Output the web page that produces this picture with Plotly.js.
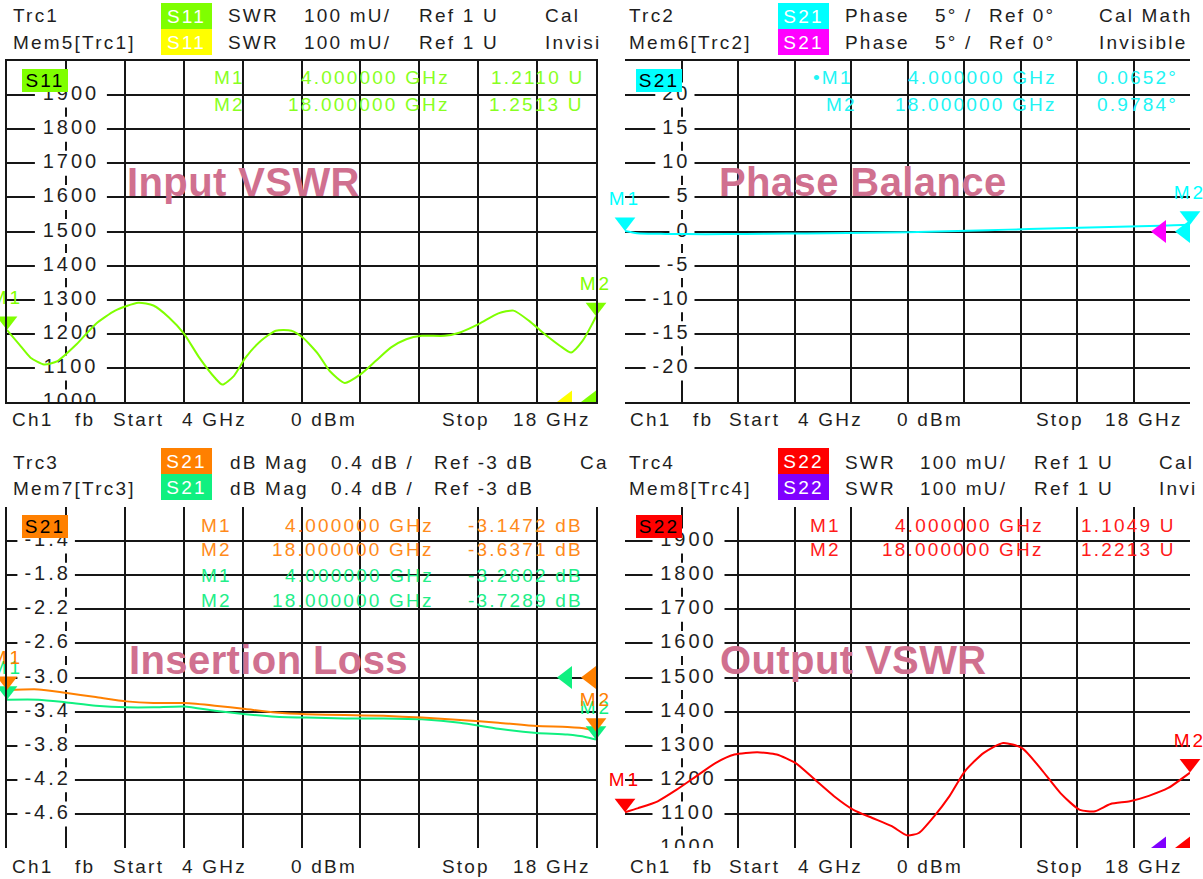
<!DOCTYPE html>
<html><head><meta charset="utf-8">
<script src="https://cdn.plot.ly/plotly-3.0.1.min.js"></script>
<style>
html,body{margin:0;padding:0;background:#fff;overflow:hidden;}
#chart{width:1203px;height:879px;}
text.annotation-text { letter-spacing: 2.2px; }
g.textpoint text { letter-spacing: 3px; }
</style></head><body><div id="chart"></div><script>
// ---------- data ----------
const freqStart = 4, freqStop = 18, freqDiv = 1.4;

// Trc1: S11 SWR (mU)
const s11Freq = [4.00,4.29,4.56,4.88,5.20,5.66,6.11,6.57,7.12,7.48,7.85,8.21,8.57,8.94,9.12,9.39,9.67,10.03,10.39,10.76,11.03,11.40,11.67,12.03,12.40,12.76,13.13,13.49,13.86,14.40,14.77,15.22,15.68,16.04,16.41,16.77,17.14,17.41,17.68,17.91,18.00];
const s11Swr  = [1211,1169,1130,1110,1120,1170,1229,1268,1291,1283,1248,1200,1130,1071,1051,1076,1130,1179,1209,1209,1189,1140,1091,1056,1081,1120,1160,1184,1194,1194,1204,1229,1260,1268,1238,1200,1165,1145,1179,1229,1251];
const s11MarkerU = [1.2110, 1.2513];

// Trc2: S21 phase (deg)
const phaseFreq = [4.0,4.3,5.0,6.0,7.0,8.0,9.0,10.0,11.0,12.0,13.0,14.0,15.0,16.0,17.0,17.6,18.0];
const phaseDeg  = [0.07,-0.25,-0.35,-0.4,-0.35,-0.3,-0.25,-0.2,-0.1,0.05,0.2,0.35,0.5,0.65,0.8,0.9,0.98];
const phaseMarkerDeg = [0.0652, 0.9784];

// Trc3 / Mem7: S21 dB Mag
const ilFreq  = [4.00,4.75,5.38,6.11,6.84,7.48,8.21,8.94,9.67,10.39,11.12,12.03,12.95,13.86,14.77,15.68,16.59,17.32,17.77,18.00];
const ilTrc3  = [-3.147,-3.14,-3.18,-3.23,-3.28,-3.30,-3.30,-3.33,-3.37,-3.41,-3.43,-3.44,-3.45,-3.47,-3.50,-3.53,-3.57,-3.58,-3.60,-3.637];
const ilMem7  = [-3.260,-3.26,-3.29,-3.33,-3.35,-3.35,-3.34,-3.39,-3.43,-3.46,-3.47,-3.48,-3.48,-3.49,-3.53,-3.60,-3.65,-3.67,-3.70,-3.729];
const ilTrc3Marker = [-3.1472, -3.6371];
const ilMem7Marker = [-3.2602, -3.7289];

// Trc4: S22 SWR (mU)
const s22Freq = [4.00,4.33,4.81,5.28,5.76,6.24,6.71,7.28,7.76,8.23,8.71,9.18,9.66,10.13,10.61,10.99,11.28,11.66,12.04,12.42,12.89,13.37,13.84,14.32,14.79,15.27,15.65,16.03,16.51,16.98,17.46,18.00];
const s22Swr  = [1105,1117,1137,1171,1210,1249,1274,1281,1274,1249,1200,1152,1112,1088,1064,1037,1044,1093,1152,1225,1279,1308,1293,1230,1161,1112,1108,1129,1137,1153,1176,1221];
const s22MarkerU = [1.1049, 1.2213];

// tick labels
const swrTickVals = [1900,1800,1700,1600,1500,1400,1300,1200,1100,1000];
const swrTickText = ['1900','1800','1700','1600','1500','1400','1300','1200','1100','1000'];
const phaseTickVals = [20,15,10,5,0,-5,-10,-15,-20];
const phaseTickText = ['20','15','10','5','0','-5','-10','-15','-20'];
const ilTickVals = [-1.4,-1.8,-2.2,-2.6,-3.0,-3.4,-3.8,-4.2,-4.6];
const ilTickText = ['-1.4','-1.8','-2.2','-2.6','-3.0','-3.4','-3.8','-4.2','-4.6'];

const panelTitles = ['Input VSWR','Phase Balance','Insertion Loss','Output VSWR'];
const markerNames = ['M1','M2'];
const markerFreqText = ['4.000000 GHz','18.000000 GHz'];

// ---------- styling / geometry ----------
const W = 1203, H = 879;
const FONT = 'Liberation Sans, Arial, sans-serif';
const TXT = '#1e1e1e';
const C = {s11:'#7fff00', s11mem:'#ffff00', s21:'#00ffff', s21mem:'#ff00ff',
           il:'#ff8000', ilmem:'#10f080', s22:'#ff0000', s22mem:'#8000ff', title:'#d0708f'};
const panels = [
  {l:7,   r:596,  t:61,  b:402, yr:[1000,2000], dt:100},
  {l:625, r:1190, t:61,  b:402, yr:[-25,25],   dt:5},
  {l:7,   r:596,  t:507, b:848, yr:[-5,-1],    dt:0.4},
  {l:625, r:1190, t:507, b:848, yr:[1000,2000], dt:100},
];
const ax = i => i===0 ? ['x','y'] : ['x'+(i+1),'y'+(i+1)];
const dataX = (p,px) => freqStart + (px - p.l)*(freqStop-freqStart)/(p.r-p.l);
const dyPx = (p,px) => px*(p.yr[1]-p.yr[0])/(p.b-p.t);
const px2fx = x => x/W, px2fy = y => 1 - y/H;

const traces = [];
const annotations = [];
const layout = {width:W, height:H, margin:{l:0,r:0,t:0,b:0}, paper_bgcolor:'#fff', plot_bgcolor:'#fff',
  showlegend:false, font:{family:FONT, size:19, color:TXT}, annotations};

panels.forEach((p,i)=>{
  const xk = i===0?'xaxis':'xaxis'+(i+1), yk = i===0?'yaxis':'yaxis'+(i+1);
  layout[xk] = {domain:[p.l/W, p.r/W], range:[freqStart,freqStop], tick0:freqStart, dtick:freqDiv,
    showgrid:true, gridcolor:'#161616', gridwidth:2, showline:true, mirror:true, linecolor:'#161616', linewidth:2,
    zeroline:false, showticklabels:false, ticks:'', fixedrange:true};
  layout[yk] = {domain:[1-p.b/H, 1-p.t/H], range:p.yr, tick0:p.yr[0], dtick:p.dt,
    showgrid:true, gridcolor:'#161616', gridwidth:2, showline:true, mirror:true, linecolor:'#161616', linewidth:2,
    zeroline:false, showticklabels:false, ticks:'', fixedrange:true};
});

// tick label boxes + text
function charW(s){ let w=0; for(const c of s){ w += (c==='-')?9.7:(c==='.')?8.6:14.1; } return w; }
function tickLabels(i, vals, texts, mode, off){
  const p = panels[i], [xa,ya] = ax(i);
  const g = p.l + (p.r-p.l)/10;
  const bx=[], by=[], hh = dyPx(p,12.5);
  vals.forEach((v,k)=>{
    let L,R;
    if(mode==='center'){ L = g+off-36; R = g+off+36; }
    else { const w = charW(texts[k]); L = g+off-w-7; R = g+off+4; }
    const x0=dataX(p,L), x1=dataX(p,R);
    bx.push(x0,x1,x1,x0,x0,null); by.push(v-hh,v-hh,v+hh,v+hh,v-hh,null);
  });
  traces.push({type:'scatter', mode:'lines', x:bx, y:by, fill:'toself', fillcolor:'#ffffff',
    line:{width:0,color:'rgba(0,0,0,0)'}, hoverinfo:'skip', xaxis:xa, yaxis:ya, cliponaxis:true});
  traces.push({type:'scatter', mode:'text', x:vals.map(()=>dataX(p,g+off)), y:vals, text:texts,
    textposition: mode==='center'?'middle center':'middle left', textfont:{family:FONT,size:20,color:TXT},
    hoverinfo:'skip', xaxis:xa, yaxis:ya, cliponaxis:true});
}
tickLabels(0, swrTickVals, swrTickText, 'center', 5);
tickLabels(1, phaseTickVals, phaseTickText, 'right', 9);
tickLabels(2, ilTickVals, ilTickText, 'right', 5);
tickLabels(3, swrTickVals, swrTickText, 'center', 7);

// data traces
function line(i, x, y, color){
  const [xa,ya]=ax(i);
  traces.push({type:'scatter', mode:'lines', x, y, line:{color, width:2, shape:'spline', smoothing:0.6},
    hoverinfo:'skip', xaxis:xa, yaxis:ya});
}
line(0, s11Freq, s11Swr, C.s11);
line(1, phaseFreq, phaseDeg, C.s21);
line(2, ilFreq, ilMem7, C.ilmem);
line(2, ilFreq, ilTrc3, C.il);
line(3, s22Freq, s22Swr, C.s22);

// marker triangles (tip at the marker value)
function markers(i, vals, color){
  const p=panels[i], [xa,ya]=ax(i);
  traces.push({type:'scatter', mode:'markers+text', x:[freqStart,freqStop], y:vals.map(v=>v+dyPx(p,9)),
    marker:{symbol:'triangle-down', size:18, color, line:{width:0}}, text:markerNames, textposition:'top center',
    textfont:{family:FONT,size:19,color}, cliponaxis:false, hoverinfo:'skip', xaxis:xa, yaxis:ya});
}
markers(0, s11MarkerU.map(u=>u*1000), C.s11);
markers(1, phaseMarkerDeg, C.s21);
markers(2, ilMem7Marker, C.ilmem);
markers(2, ilTrc3Marker, C.il);
markers(3, s22MarkerU.map(u=>u*1000), C.s22);

// reference level triangles at right edge
const refLevels = [1000, 0, -3, 1000];
const refColors = [[C.s11mem,C.s11],[C.s21mem,C.s21],[C.ilmem,C.il],[C.s22mem,C.s22]];
panels.forEach((p,i)=>{
  const [xa,ya]=ax(i);
  traces.push({type:'scatter', mode:'markers', x:[dataX(p,p.r-29), dataX(p,p.r-5)], y:[refLevels[i],refLevels[i]],
    marker:{symbol:'triangle-left', size:20, color:refColors[i], line:{width:0}}, cliponaxis:true, hoverinfo:'skip', xaxis:xa, yaxis:ya});
});

// ---------- annotations ----------
function A(px, py, text, o={}){
  annotations.push(Object.assign({xref:'paper', yref:'paper', x:px2fx(px), y:px2fy(py), text, showarrow:false,
    xanchor:'left', yanchor:'middle', font:{family:FONT, size:19, color:TXT}}, o));
}
function badge(px, py, w, h, text, bg, fc){
  A(px, py, text, {yanchor:'top', width:w, height:h, bgcolor:bg, borderpad:0, borderwidth:0, align:'center', valign:'middle',
    font:{family:FONT, size:19, color:fc}});
}
// headers
const headers = [
  {y:[16,42], by:[3,29], bx:161, toks:[[11,'Trc1','Mem5[Trc1]'],[226,'SWR','SWR'],[302,'100 mU/','100 mU/'],[417,'Ref 1 U','Ref 1 U'],[543,'Cal','Invisi']], badge:['S11',C.s11,C.s11mem]},
  {y:[16,42], by:[3,29], bx:778, toks:[[627,'Trc2','Mem6[Trc2]'],[843,'Phase','Phase'],[933,'5° /','5° /'],[987,'Ref 0°','Ref 0°'],[1097,'Cal Math','Invisible']], badge:['S21',C.s21,C.s21mem]},
  {y:[462,488], by:[448,474], bx:161, toks:[[11,'Trc3','Mem7[Trc3]'],[228,'dB Mag','dB Mag'],[329,'0.4 dB /','0.4 dB /'],[432,'Ref -3 dB','Ref -3 dB'],[578,'Ca','']], badge:['S21',C.il,C.ilmem]},
  {y:[462,488], by:[448,474], bx:778, toks:[[627,'Trc4','Mem8[Trc4]'],[843,'SWR','SWR'],[918,'100 mU/','100 mU/'],[1032,'Ref 1 U','Ref 1 U'],[1157,'Cal','Invi']], badge:['S22',C.s22,C.s22mem]},
];
headers.forEach(h=>{
  h.toks.forEach(t=>{ if(t[1]) A(t[0], h.y[0], t[1]); if(t[2]) A(t[0], h.y[1], t[2]); });
  badge(h.bx, h.by[0], 51, 26, h.badge[0], h.badge[1], '#ffffff');
  badge(h.bx, h.by[1], 51, 26, h.badge[0], h.badge[2], '#ffffff');
});
// in-plot trace badges
const inBadges = [[22,69,'S11',C.s11],[636,69,'S21',C.s21],[22,515,'S21',C.il],[636,515,'S22',C.s22]];
inBadges.forEach(b=>badge(b[0], b[1], 46, 23, b[2], b[3], '#000000'));

// bottom lines
const footLeft  = [[10,'Ch1'],[73,'fb'],[111,'Start'],[180,'4 GHz'],[289,'0 dBm'],[440,'Stop'],[511,'18 GHz']];
const footRight = [[628,'Ch1'],[691,'fb'],[727,'Start'],[796,'4 GHz'],[895,'0 dBm'],[1034,'Stop'],[1103,'18 GHz']];
[[footLeft,419],[footRight,419],[footLeft,866],[footRight,866]].forEach(([f,y])=>f.forEach(t=>A(t[0], y, t[1])));

// marker readouts
function readout(y, name, nx, ftxt, fr, val, vr, color){
  A(nx, y, name, {font:{family:FONT,size:19,color}});
  A(fr, y, ftxt, {xanchor:'right', font:{family:FONT,size:19,color}});
  A(vr, y, val, {xanchor:'right', font:{family:FONT,size:19,color}});
}
const s11Txt = '#88ff22', s21Txt = '#22f4f4', ilTxt = '#ff8a1a', ilmTxt = '#22ee88', s22Txt = '#ff1a1a';
[0,1].forEach(k=>{
  readout([78,104][k], markerNames[k], 212, markerFreqText[k], 452, s11MarkerU[k].toFixed(4)+' U', 586, s11Txt);
  readout([78,104][k], (k===0?'•':'')+markerNames[k], k===0?811:824, markerFreqText[k], 1059, phaseMarkerDeg[k].toFixed(4)+'°', 1180, s21Txt);
  readout([525,549][k], markerNames[k], 199, markerFreqText[k], 436, ilTrc3Marker[k].toFixed(4)+' dB', 585, ilTxt);
  readout([575,600][k], markerNames[k], 199, markerFreqText[k], 436, ilMem7Marker[k].toFixed(4)+' dB', 585, ilmTxt);
  readout([525,549][k], markerNames[k], 808, markerFreqText[k], 1046, s22MarkerU[k].toFixed(4)+' U', 1178, s22Txt);
});

// panel titles
const titlePos = [[125,182],[717,182],[127,660],[718,660]];
panelTitles.forEach((t,i)=>A(titlePos[i][0], titlePos[i][1], '<span style="letter-spacing:0.4px">'+t+'</span>',
  {font:{family:FONT, size:40, color:C.title, weight:'bold'}}));

Plotly.newPlot('chart', traces, layout, {staticPlot:true, displayModeBar:false});
</script></body></html>
